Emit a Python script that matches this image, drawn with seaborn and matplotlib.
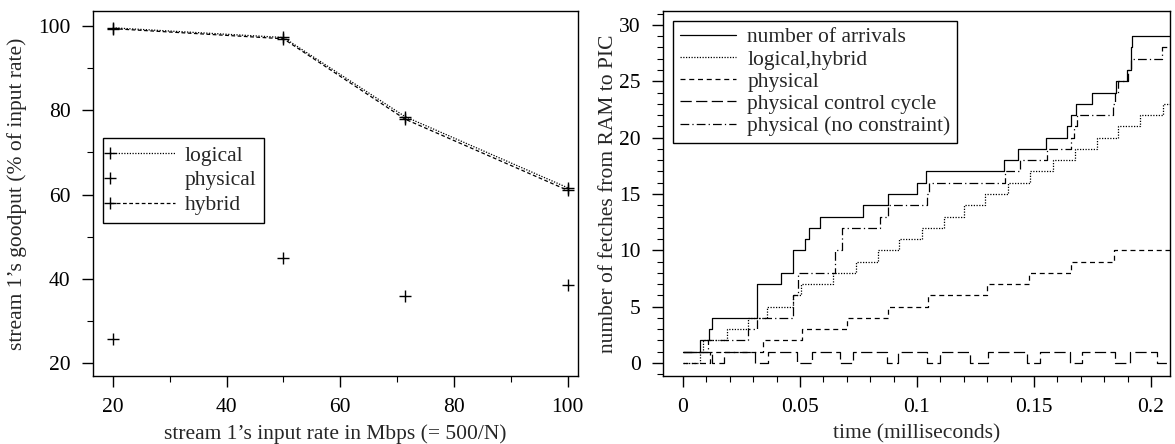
import numpy as np
import pandas as pd
import seaborn as sns
import matplotlib.pyplot as plt
from matplotlib.ticker import MultipleLocator
from matplotlib.legend_handler import HandlerLine2DCompound
from matplotlib.lines import Line2D

# ── left panel: stream 1 goodput vs input rate ────────────────────────────
rate = [20, 50, 71.4, 100]
logical = [99.6, 97.3, 78.5, 61.6]
hybrid = [99.4, 97.0, 77.9, 61.0]
physical = [25.6, 44.9, 35.8, 38.5]

# ── right panel: cumulative fetches, (time in ms, count) at each step ─────
arrivals_t = [0, 0.0073, 0.011, 0.0125, 0.0317, 0.042, 0.047, 0.052, 0.054, 0.0585,
              0.077, 0.0877, 0.1, 0.104, 0.137, 0.143, 0.155, 0.164, 0.166, 0.168,
              0.175, 0.185, 0.1896, 0.1913, 0.1915, 0.1917, 0.209]
arrivals_n = [1, 2, 3, 4, 7, 8, 10, 11, 12, 13,
              14, 15, 16, 17, 18, 19, 20, 21, 22, 23,
              24, 25, 26, 27, 28, 29, 29]

loghyb_t = [0, 0.0075, 0.0085, 0.019, 0.028, 0.036, 0.047, 0.0505, 0.064, 0.074,
            0.0834, 0.0923, 0.102, 0.1115, 0.12, 0.129, 0.139, 0.1483, 0.1583, 0.1675,
            0.1768, 0.186, 0.1953, 0.205, 0.209]
loghyb_n = [0, 1, 2, 3, 4, 5, 6, 7, 8, 9,
            10, 11, 12, 13, 14, 15, 16, 17, 18, 19,
            20, 21, 22, 23, 23]

phys_t = [0, 0.0115, 0.034, 0.051, 0.070, 0.0875, 0.1047, 0.13, 0.148, 0.166, 0.184, 0.209]
phys_n = [0, 1, 2, 3, 4, 5, 6, 7, 8, 9, 10, 10]

cycle_t = [0, 0.0125, 0.0175, 0.0308, 0.0363, 0.0487, 0.0551, 0.0671, 0.0726, 0.0872,
           0.0919, 0.1043, 0.1098, 0.1226, 0.1303, 0.147, 0.1526, 0.1654, 0.1705, 0.1846,
           0.191, 0.2026, 0.209]
cycle_n = [1, 0, 1, 0, 1, 0, 1, 0, 1, 0,
           1, 0, 1, 0, 1, 0, 1, 0, 1, 0,
           1, 0, 0]

nocons_t = [0, 0.0108, 0.028, 0.0315, 0.047, 0.049, 0.065, 0.068, 0.084, 0.0876,
            0.1045, 0.105, 0.1376, 0.144, 0.1556, 0.166, 0.1672, 0.1684, 0.1838, 0.1846,
            0.186, 0.19, 0.1915, 0.2047, 0.209]
nocons_n = [1, 2, 3, 4, 6, 8, 10, 12, 13, 14,
            15, 16, 17, 18, 19, 20, 21, 22, 23, 24,
            25, 26, 27, 28, 28]

sns.set_theme(style="ticks")
plt.rcParams["font.family"] = ["Liberation Serif", "DejaVu Serif"]
FS = 15.5
K = "black"
LW = 0.9


class MarkerLeft(HandlerLine2DCompound):
    # legend marker sits at the left end of the sample line
    def get_xdata(self, legend, xdescent, ydescent, width, height, fontsize):
        xdata, _ = super().get_xdata(legend, xdescent, ydescent, width, height, fontsize)
        return xdata, np.array([-xdescent])


fig = plt.figure(figsize=(11.75, 4.44), dpi=100)
ax1 = fig.add_axes([0.0791, 0.1532, 0.4128, 0.8221])
ax2 = fig.add_axes([0.5643, 0.1532, 0.4314, 0.8221])

# ── left panel ──
mk = dict(marker="+", markersize=8, markeredgewidth=1.0, markeredgecolor=K)
sns.lineplot(x=rate, y=logical, ax=ax1, color=K, lw=LW, linestyle=(0, (1, 1.2)), **mk)
sns.lineplot(x=rate, y=hybrid, ax=ax1, color=K, lw=LW, linestyle=(0, (3, 2)), **mk)
sns.scatterplot(x=rate, y=physical, ax=ax1, color=K, marker="+", s=64, linewidth=1.0)

ax1.set_xlim(16.5, 101.8)
ax1.set_ylim(16.9, 103.6)
ax1.set_xticks([20, 40, 60, 80, 100])
ax1.set_yticks([20, 40, 60, 80, 100])
ax1.xaxis.set_minor_locator(MultipleLocator(10))
ax1.yaxis.set_minor_locator(MultipleLocator(10))
ax1.set_xlabel("stream 1’s input rate in Mbps (= 500/N)", fontsize=FS, labelpad=5)
ax1.set_ylabel("stream 1’s goodput (% of input rate)", fontsize=FS, labelpad=8)

h1 = [Line2D([], [], color=K, lw=LW, linestyle=(0, (1, 1.2)), **mk),
      Line2D([], [], color=K, linestyle="none", **mk),
      Line2D([], [], color=K, lw=LW, linestyle=(0, (3, 2)), **mk)]
leg1 = ax1.legend(h1, ["logical", "physical", "hybrid"], loc="upper left",
                  bbox_to_anchor=(0.02, 0.652), fontsize=FS, frameon=True, fancybox=False,
                  edgecolor=K, framealpha=1, handlelength=3.0, handletextpad=0.45,
                  labelspacing=0.22, borderpad=0.35, borderaxespad=0, numpoints=1,
                  handler_map={Line2D: MarkerLeft()})
leg1.get_frame().set_linewidth(1.0)

# ── right panel ──
steps = [
    (arrivals_t, arrivals_n, "-", "number of arrivals"),
    (loghyb_t, loghyb_n, (0, (1, 1.2)), "logical,hybrid"),
    (phys_t, phys_n, (0, (4, 3)), "physical"),
    (cycle_t, cycle_n, (0, (9, 3.5)), "physical control cycle"),
    (nocons_t, nocons_n, (0, (7, 2.5, 1, 2.5)), "physical (no constraint)"),
]
h2 = []
for t, n, ls, lab in steps:
    df = pd.DataFrame({"t": t, "n": n})
    sns.lineplot(data=df, x="t", y="n", ax=ax2, color=K, lw=LW, linestyle=ls,
                 drawstyle="steps-post", sort=False, estimator=None)
    h2.append(Line2D([], [], color=K, lw=LW, linestyle=ls))

ax2.set_xlim(-0.0085, 0.2081)
ax2.set_ylim(-1.15, 31.24)
ax2.set_xticks([0, 0.05, 0.1, 0.15, 0.2], ["0", "0.05", "0.1", "0.15", "0.2"])
ax2.set_yticks([0, 5, 10, 15, 20, 25, 30])
ax2.xaxis.set_minor_locator(MultipleLocator(0.01))
ax2.yaxis.set_minor_locator(MultipleLocator(1))
ax2.set_xlabel("time (milliseconds)", fontsize=FS, labelpad=5)
ax2.set_ylabel("number of fetches from RAM to PIC", fontsize=FS, labelpad=1)

leg2 = ax2.legend(h2, [s[3] for s in steps], loc="upper left",
                  bbox_to_anchor=(0.02, 0.973), fontsize=FS, frameon=True, fancybox=False,
                  edgecolor=K, framealpha=1, handlelength=2.6, handletextpad=0.55,
                  labelspacing=0.1, borderpad=0.3, borderaxespad=0)
leg2.get_frame().set_linewidth(1.0)

for ax in (ax1, ax2):
    for sp in ax.spines.values():
        sp.set_visible(True)
        sp.set_linewidth(1.0)
        sp.set_color(K)
    ax.tick_params(which="major", direction="out", length=8, width=1, colors=K,
                   labelsize=FS, pad=8)
    ax.tick_params(which="minor", direction="out", length=4, width=0.8, colors=K)
    ax.tick_params(top=False, right=False, which="both")

fig.savefig("out.png", dpi=100)
